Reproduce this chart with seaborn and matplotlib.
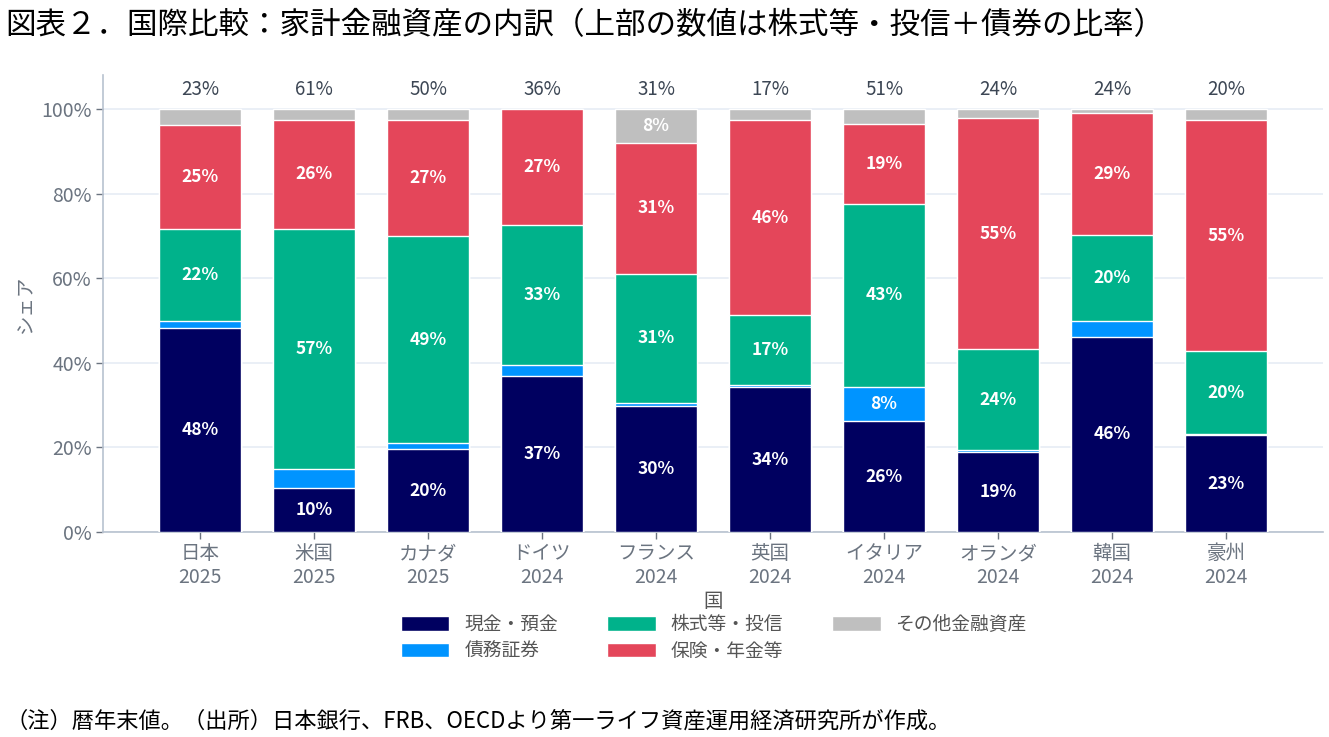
import numpy as np
import pandas as pd
import matplotlib
matplotlib.use("Agg")
import matplotlib.pyplot as plt
import seaborn as sns
from matplotlib.patches import Patch

# --- DATA (shares in %) ---
countries = ["日本\n2025", "米国\n2025", "カナダ\n2025", "ドイツ\n2024", "フランス\n2024",
             "英国\n2024", "イタリア\n2024", "オランダ\n2024", "韓国\n2024", "豪州\n2024"]
cash = [48.3, 10.4, 19.6, 36.8, 29.7, 34.2, 26.2, 18.9, 46.2, 22.9]
bonds = [1.7, 4.5, 1.4, 2.6, 0.8, 0.5, 8.2, 0.4, 3.8, 0.2]
equity = [21.6, 56.8, 49.0, 33.2, 30.6, 16.6, 43.2, 23.9, 20.3, 19.6]
insurance = [24.7, 25.7, 27.4, 27.4, 30.9, 46.0, 18.9, 54.6, 28.8, 54.6]
other = [3.7, 2.6, 2.6, 0.0, 8.0, 2.7, 3.5, 2.2, 0.9, 2.7]

series_names = ["現金・預金", "債務証券", "株式等・投信", "保険・年金等", "その他金融資産"]
colors = ["#000060", "#0094ff", "#00b28b", "#e4465a", "#bfbfbf"]

# --- STYLE ---
sns.set_theme(style="white")
plt.rcParams["font.family"] = ["Noto Sans CJK JP", "DejaVu Sans"]
TICK_COLOR = "#6b7480"

df = pd.DataFrame({"country": countries, "現金・預金": cash, "債務証券": bonds,
                   "株式等・投信": equity, "保険・年金等": insurance, "その他金融資産": other})
cum = df[series_names].cumsum(axis=1)

fig = plt.figure(figsize=(13.29, 7.37), dpi=100)
ax = fig.add_axes([0.0775, 0.278, 0.918, 0.62])

# stacked bars: draw cumulative totals from top segment down
for name, col in reversed(list(zip(series_names, colors))):
    sns.barplot(x=df["country"], y=cum[name], color=col, width=0.72,
                edgecolor="white", linewidth=1, saturation=1, ax=ax, zorder=3)

# segment labels
for i in range(len(countries)):
    base = 0
    for name in series_names:
        v = df.loc[i, name]
        if v >= 5:
            ax.text(i, base + v / 2, f"{round(v):.0f}%", ha="center", va="center",
                    color="white", fontsize=12.5, fontweight="bold", zorder=5)
        base += v
    top = equity[i] + bonds[i]
    ax.text(i, 104.6, f"{round(top):.0f}%", ha="center", va="center",
            color="#3c4654", fontsize=13.5, zorder=5)

ax.set_xlim(-0.85, 9.85)
ax.set_ylim(0, 108)
ax.set_yticks([0, 20, 40, 60, 80, 100])
ax.set_yticklabels([f"{t}%" for t in [0, 20, 40, 60, 80, 100]])
ax.yaxis.grid(True, color="#e6ecf5", linewidth=1.2, zorder=0)
ax.set_axisbelow(True)
ax.tick_params(axis="both", colors=TICK_COLOR, labelsize=14, length=5, width=1,
               direction="out", bottom=True, left=True, pad=3)
for s in ["top", "right"]:
    ax.spines[s].set_visible(False)
for s in ["left", "bottom"]:
    ax.spines[s].set_color("#b8c2cf")
    ax.spines[s].set_linewidth(1.2)
ax.set_ylabel("シェア", color=TICK_COLOR, fontsize=14, labelpad=4)
ax.set_xlabel("国", color="#555555", fontsize=14, labelpad=2)

handles = [Patch(facecolor=c, edgecolor="white", label=n) for n, c in zip(series_names, colors)]
fig.legend(handles=handles, loc="upper center", bbox_to_anchor=(0.537, 0.19), ncol=3,
           frameon=False, fontsize=13.5, handlelength=2.6, handleheight=0.8,
           columnspacing=2.6, labelspacing=0.3, labelcolor="#555555")

fig.text(0.004, 0.965, "図表２．国際比較：家計金融資産の内訳（上部の数値は株式等・投信＋債券の比率）",
         fontsize=22, color="black", va="center", ha="left")
fig.text(0.004, 0.022, "（注）暦年末値。（出所）日本銀行、FRB、OECDより第一ライフ資産運用経済研究所が作成。",
         fontsize=16, color="black", va="center", ha="left")

fig.savefig("out.png", dpi=100)
